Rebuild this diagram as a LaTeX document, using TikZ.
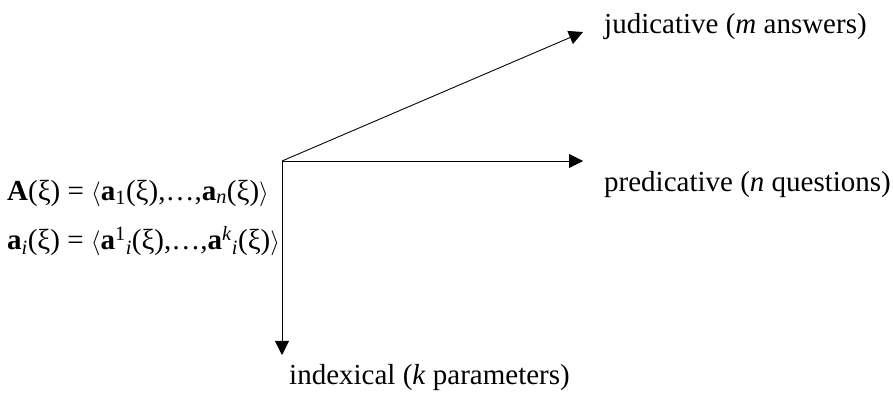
\documentclass[tikz,border=0pt]{standalone}
\usepackage{fontspec}
\setmainfont{Liberation Serif}
\usetikzlibrary{arrows.meta}
\begin{document}
\begin{tikzpicture}[x=1pt,y=1pt,
  axis/.style={line width=0.9pt,-{Triangle[length=14pt,width=14pt]}},
  lbl/.style={inner sep=0pt,font=\fontsize{29}{33}\selectfont},
  frm/.style={inner sep=0pt,font=\fontsize{29}{33}\selectfont}]
\useasboundingbox (0,0) rectangle (893,412);
\coordinate (O) at (282,251);
\coordinate (J) at (583,380);
\coordinate (P) at (583,251);
\coordinate (I) at (282,57);
\draw[axis] (O) -- (J);
\draw[axis] (O) -- (P);
\draw[axis] (O) -- (I);
\node[lbl,anchor=west] (jl) at (604,385) {judicative (\textit{m} answers)};
\node[lbl,anchor=west] (pl) at (604,227) {predicative (\textit{n} questions)};
\node[lbl,anchor=west] (il) at (289,34) {indexical (\textit{k} parameters)};
\node[frm,anchor=west] (f1) at (7,219) {\textbf{A}(ξ) = $\langle$\textbf{a}\textsubscript{1}(ξ),…,\textbf{a}\textsubscript{\textit{n}}(ξ)$\rangle$};
\node[frm,anchor=west] (f2) at (7,171) {\textbf{a}\textsubscript{\textit{i}}(ξ) = $\langle$\textbf{a}\textsuperscript{1}\textsubscript{\textit{i}}(ξ),…,\textbf{a}\textsuperscript{\textit{k}}\textsubscript{\textit{i}}(ξ)$\rangle$};
\end{tikzpicture}
\end{document}
